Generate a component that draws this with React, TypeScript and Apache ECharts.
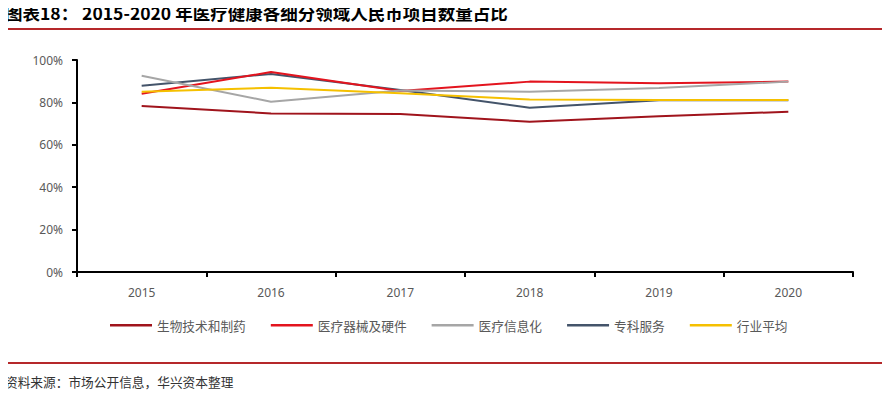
import React, { useEffect, useRef } from "react";
import * as echarts from "echarts";

const years = ["2015", "2016", "2017", "2018", "2019", "2020"];
const seriesNames = ["生物技术和制药", "医疗器械及硬件", "医疗信息化", "专科服务", "行业平均"];
const bioPharma = [78.3, 74.8, 74.5, 70.9, 73.5, 75.6];
const devices = [84.1, 94.3, 85.4, 89.8, 89.0, 89.8];
const healthIT = [92.6, 80.3, 85.6, 85.0, 86.8, 89.8];
const specialty = [87.9, 93.4, 85.8, 77.5, 81.0, 81.0];
const average = [85.0, 86.9, 84.3, 81.4, 81.1, 81.1];
const colors = ["#A0141C", "#E3141E", "#A6A6A6", "#44546A", "#F5C000"];
const zOrder = [6, 7, 8, 5, 9];
const yTicks = { min: 0, max: 100, interval: 20 };

export default function App() {
  const ref = useRef<HTMLDivElement>(null);
  useEffect(() => {
    const chart = echarts.init(ref.current!, undefined, { renderer: "svg" });
    const data = [bioPharma, devices, healthIT, specialty, average];
    chart.setOption({
      animation: false,
      color: colors,
      textStyle: { fontFamily: "'Noto Sans CJK SC', 'Noto Sans', sans-serif" },
      grid: { left: 77, right: 37, top: 60, bottom: 128 },
      legend: {
        left: 105,
        top: 314,
        itemWidth: 42,
        itemHeight: 2.5,
        itemGap: 25,
        icon: "rect",
        textStyle: { fontSize: 12.7, color: "#595959" },
        data: seriesNames,
      },
      xAxis: {
        type: "category",
        data: years,
        boundaryGap: true,
        axisLine: { lineStyle: { color: "#000", width: 2 } },
        axisTick: { show: true, length: 5, lineStyle: { color: "#000", width: 2 } },
        axisLabel: { color: "#595959", fontSize: 12, margin: 14, fontFamily: "'Noto Sans', sans-serif" },
      },
      yAxis: {
        type: "value",
        min: yTicks.min,
        max: yTicks.max,
        interval: yTicks.interval,
        axisLine: { show: true, lineStyle: { color: "#000", width: 2 } },
        axisTick: { show: true, length: 5, lineStyle: { color: "#000", width: 2 } },
        axisLabel: { color: "#595959", fontSize: 12, formatter: "{value}%", margin: 14, fontFamily: "'Noto Sans', sans-serif" },
        splitLine: { show: false },
      },
      series: seriesNames.map((name, i) => ({
        name,
        type: "line",
        data: data[i],
        symbol: "none",
        lineStyle: { width: 2, color: colors[i] },
        itemStyle: { color: colors[i] },
        z: zOrder[i],
      })),
      graphic: [
        {
          type: "text",
          left: 5,
          top: 4,
          style: {
            text: "图表18： 2015-2020 年医疗健康各细分领域人民币项目数量占比",
            font: "bold 17.5px 'Noto Sans CJK SC', sans-serif",
            fill: "#000",
          },
        },
        {
          type: "rect",
          shape: { x: 0, y: 28, width: 890, height: 2 },
          style: { fill: "#B5282A" },
        },
        {
          type: "rect",
          shape: { x: 0, y: 362, width: 890, height: 2 },
          style: { fill: "#B5282A" },
        },
        {
          type: "text",
          left: 5,
          top: 375,
          style: {
            text: "资料来源：市场公开信息，华兴资本整理",
            font: "12.7px 'Noto Sans CJK SC', sans-serif",
            fill: "#333",
          },
        },
      ],
    });
    return () => chart.dispose();
  }, []);
  return <div ref={ref} style={{ width: 890, height: 400, margin: -8 }} />;
}
